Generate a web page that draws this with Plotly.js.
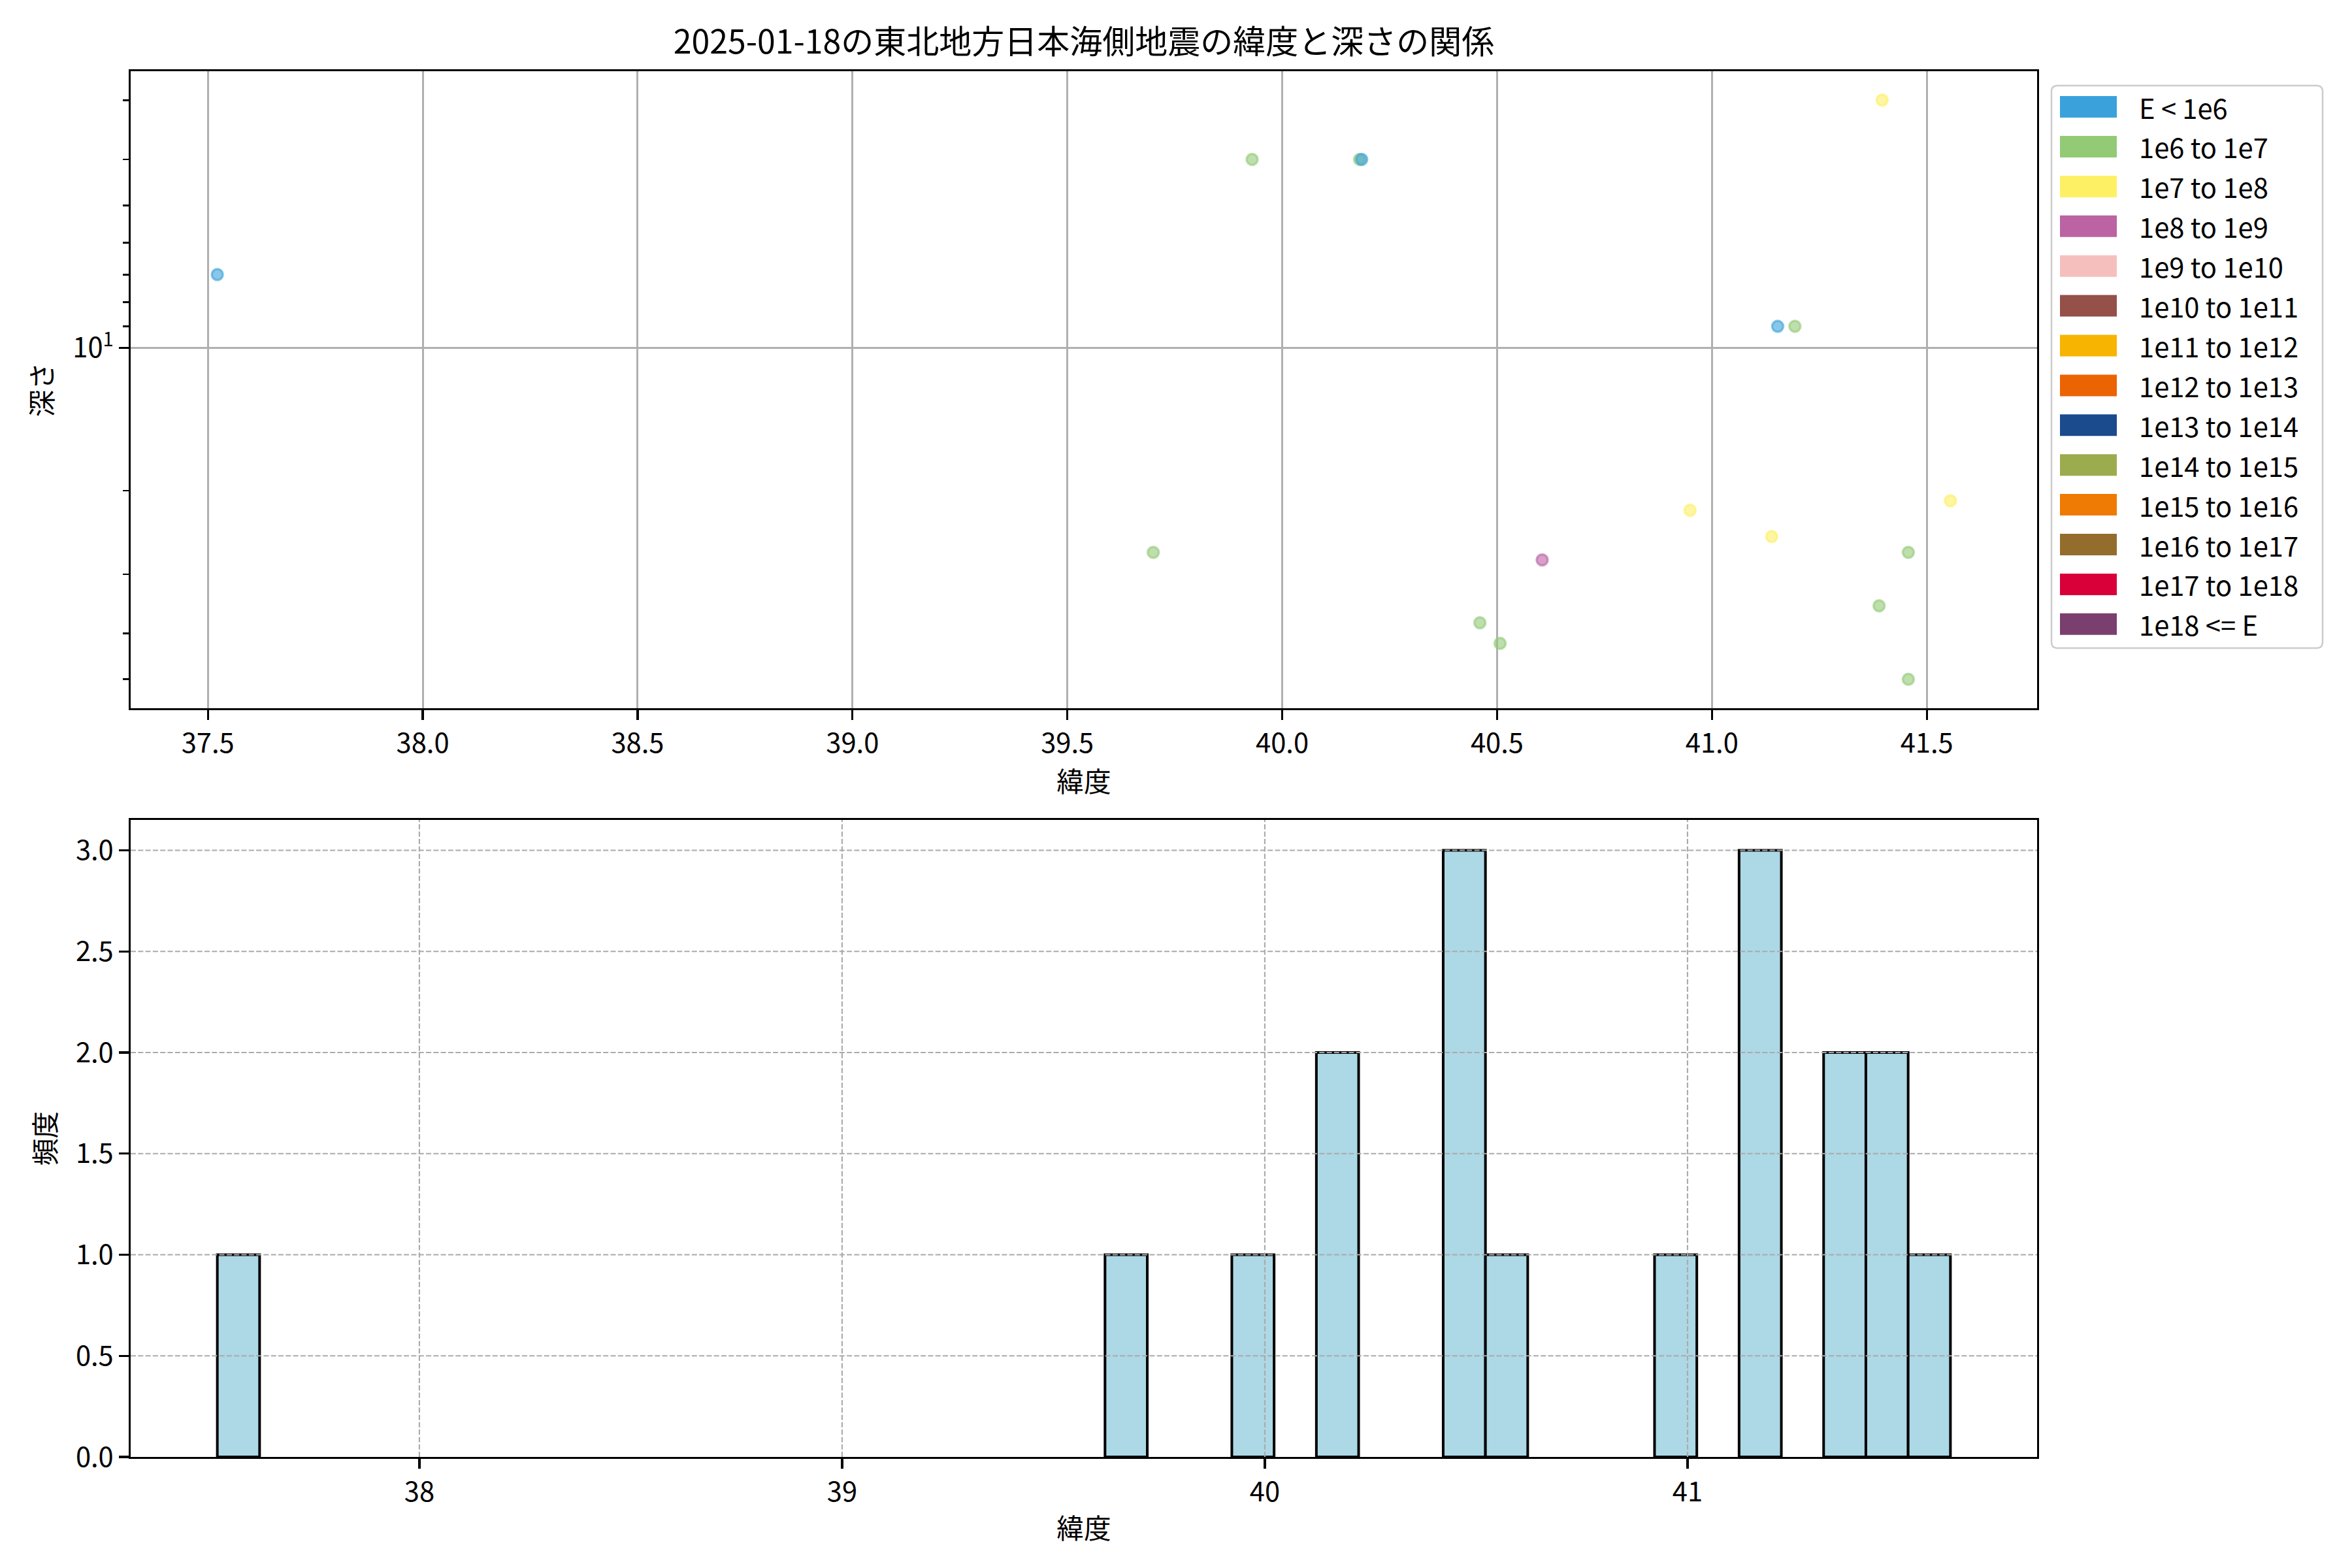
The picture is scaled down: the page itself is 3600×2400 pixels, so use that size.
<!DOCTYPE html>
<html>
<head>
<meta charset="utf-8">
<script src="https://cdn.plot.ly/plotly-3.0.1.min.js"></script>
<style>html,body{margin:0;padding:0;background:#fff}</style>
</head>
<body>
<div id="chart" style="width:3600px;height:2400px"></div>
<script>
// ---------------- data ----------------
const latitudes   = [37.522, 39.700, 39.930, 40.180, 40.185, 40.460, 40.480, 40.507, 40.605, 40.949, 41.139, 41.153, 41.193, 41.389, 41.396, 41.457, 41.457, 41.555];
const depths      = [7,      27,     4,      4,      4,      38,     0,      42,     28,     22,     25,     9,      9,      35,     3,      27,     50,     21];
const energyClass = [0,      1,      1,      1,      0,      1,      1,      1,      3,      2,      2,      0,      1,      1,      2,      1,      1,      2];

const classLabels = ['E < 1e6', '1e6 to 1e7', '1e7 to 1e8', '1e8 to 1e9', '1e9 to 1e10', '1e10 to 1e11',
                     '1e11 to 1e12', '1e12 to 1e13', '1e13 to 1e14', '1e14 to 1e15', '1e15 to 1e16',
                     '1e16 to 1e17', '1e17 to 1e18', '1e18 <= E'];
const classColors = ['#3aa1db', '#93ca76', '#fef064', '#bb63a3', '#f5bfbd', '#945049',
                     '#f7b400', '#ec6304', '#1b4a8d', '#9bac4f', '#ef7a04',
                     '#946d2c', '#d9003a', '#7a3f6f'];

const depthMinorTicks = [3, 4, 5, 6, 7, 8, 9, 20, 30, 40, 50];
const depthMajorTicks = [10];
const depthMajorText  = ['10<sup>1</sup>'];
const countTicks = [0.5, 1.0, 1.5, 2.0, 2.5, 3.0];
const histLatTicks = [38, 39, 40, 41];
const binSize = 0.1;

const titleText = '2025-01-18の東北地方日本海側地震の緯度と深さの関係';
const latLabel = '緯度';
const depthLabel = '深さ';
const countLabel = '頻度';

// ---------------- helpers ----------------
const W = 3600, H = 2400;
const FONT = '"Noto Sans CJK JP", "Noto Sans", sans-serif';
const px = x => x / W;
const py = y => 1 - y / H;
function hexA(hex, a) {
  const n = parseInt(hex.slice(1), 16);
  return `rgba(${(n >> 16) & 255},${(n >> 8) & 255},${n & 255},${a})`;
}

// scatter ranges (matplotlib-like 5% margins)
const latMin = Math.min(...latitudes), latMax = Math.max(...latitudes);
const latSpan = latMax - latMin;
const topXRange = [latMin - 0.05 * latSpan, latMax + 0.05 * latSpan];
const posDepths = depths.filter(d => d > 0);
const lgMin = Math.log10(Math.min(...posDepths)), lgMax = Math.log10(Math.max(...posDepths));
const lgSpan = lgMax - lgMin;
const topYRange = [lgMax + 0.05 * lgSpan, lgMin - 0.05 * lgSpan]; // reversed (depth increases downward)

// histogram bins (arange(min, max+size, size))
const nEdges = Math.ceil((latMax + binSize - latMin) / binSize - 1e-9);
const lastEdge = latMin + (nEdges - 1) * binSize;
const hSpan = lastEdge - latMin;
const botXRange = [latMin - 0.05 * hSpan, lastEdge + 0.05 * hSpan];
const counts = new Array(nEdges - 1).fill(0);
latitudes.forEach(v => { let k = Math.floor((v - latMin) / binSize + 1e-9); if (k >= counts.length) k = counts.length - 1; counts[k]++; });
const maxCount = Math.max(...counts);
const botYRange = [0, maxCount * 1.05];

// ---------------- traces ----------------
const scatter = {
  type: 'scatter', mode: 'markers',
  x: latitudes, y: depths,
  xaxis: 'x', yaxis: 'y',
  marker: {
    size: 17,
    color: energyClass.map(c => hexA(classColors[c], 0.6)),
    line: { width: 3.5, color: energyClass.map(c => hexA(classColors[c], 0.6)) }
  },
  showlegend: false, hoverinfo: 'x+y'
};

const hist = {
  type: 'histogram',
  x: latitudes,
  xaxis: 'x2', yaxis: 'y2',
  xbins: { start: latMin, end: lastEdge, size: binSize },
  autobinx: false,
  marker: { color: '#add8e6', line: { color: '#000000', width: 4 } },
  showlegend: false
};

// ---------------- shapes / annotations ----------------
const shapes = [];
const annotations = [];

// dashed grid above bars in bottom panel
const gridStyle = { color: '#aaaaaa', width: 2.1, dash: '8px,3.3px' };
countTicks.forEach(v => shapes.push({
  type: 'line', xref: 'x2 domain', yref: 'y2', x0: 0, x1: 1, y0: v, y1: v,
  line: gridStyle, layer: 'above'
}));
histLatTicks.forEach(v => shapes.push({
  type: 'line', xref: 'x2', yref: 'y2 domain', x0: v, x1: v, y0: 0, y1: 1,
  line: gridStyle, layer: 'above'
}));

// custom legend (patch style like matplotlib)
const legL = 3140, legR = 3555, legT = 131, legB = 992, rad = 9;
const rx = rad / W, ry = rad / H;
const L = px(legL), R = px(legR), T = py(legT), B = py(legB);
shapes.push({
  type: 'path', xref: 'paper', yref: 'paper',
  path: `M ${L + rx},${T} L ${R - rx},${T} Q ${R},${T} ${R},${T - ry} L ${R},${B + ry} Q ${R},${B} ${R - rx},${B} L ${L + rx},${B} Q ${L},${B} ${L},${B + ry} L ${L},${T - ry} Q ${L},${T} ${L + rx},${T} Z`,
  fillcolor: 'rgba(255,255,255,0.8)', line: { color: '#cccccc', width: 2.5 }, layer: 'above'
});
const row0 = 163.6, rowStep = 60.9;
classLabels.forEach((lab, i) => {
  const cy = row0 + i * rowStep;
  shapes.push({
    type: 'rect', xref: 'paper', yref: 'paper',
    x0: px(3153), x1: px(3240), y0: py(cy - 16.5), y1: py(cy + 16.5),
    fillcolor: classColors[i], line: { width: 0 }, layer: 'above'
  });
  annotations.push({
    xref: 'paper', yref: 'paper', x: px(3272), y: py(cy), xanchor: 'left', yanchor: 'middle',
    text: lab, showarrow: false, font: { family: FONT, size: 41.7, color: '#000' }
  });
});

// ---------------- layout ----------------
const axCommon = {
  showline: true, linecolor: '#000', linewidth: 3.3, mirror: true,
  ticks: 'outside', ticklen: 14.6, tickwidth: 3.3, tickcolor: '#000',
  tickfont: { family: FONT, size: 41.7, color: '#000' },
  zeroline: false
};
const xDom = [px(200), px(3118)];

const layout = {
  width: W, height: H,
  margin: { l: 0, r: 0, t: 0, b: 0 },
  paper_bgcolor: '#fff', plot_bgcolor: '#fff',
  font: { family: FONT, color: '#000' },
  showlegend: false,
  bargap: 0,
  title: {
    text: titleText, x: (xDom[0] + xDom[1]) / 2, xanchor: 'center', xref: 'paper',
    y: py(64), yanchor: 'middle', yref: 'paper',
    font: { family: FONT, size: 50, color: '#000' }
  },
  xaxis: Object.assign({}, axCommon, {
    domain: xDom, anchor: 'y', range: topXRange,
    tick0: 37.5, dtick: 0.5, tickformat: '.1f',
    showgrid: true, gridcolor: '#b0b0b0', gridwidth: 3,
    title: { text: latLabel, standoff: 18, font: { family: FONT, size: 41.7, color: '#000' } }
  }),
  yaxis: Object.assign({}, axCommon, {
    domain: [py(1084), py(109)], anchor: 'x', type: 'log', range: topYRange,
    tickmode: 'array', tickvals: depthMajorTicks, ticktext: depthMajorText,
    showgrid: true, gridcolor: '#b0b0b0', gridwidth: 3,
    minor: { tickmode: 'array', tickvals: depthMinorTicks, ticks: 'outside', ticklen: 8.3, tickwidth: 2.5, tickcolor: '#000', showgrid: false },
    title: { text: depthLabel, standoff: 18, font: { family: FONT, size: 41.7, color: '#000' } }
  }),
  xaxis2: Object.assign({}, axCommon, {
    domain: xDom, anchor: 'y2', range: botXRange,
    tickmode: 'array', tickvals: histLatTicks, ticktext: histLatTicks.map(String),
    showgrid: false,
    title: { text: latLabel, standoff: 18, font: { family: FONT, size: 41.7, color: '#000' } }
  }),
  yaxis2: Object.assign({}, axCommon, {
    domain: [py(2230), py(1255)], anchor: 'x2', range: botYRange,
    tick0: 0, dtick: 0.5, tickformat: '.1f',
    showgrid: false,
    title: { text: countLabel, standoff: 18, font: { family: FONT, size: 41.7, color: '#000' } }
  }),
  shapes: shapes,
  annotations: annotations
};

Plotly.newPlot('chart', [scatter, hist], layout, { staticPlot: true, displayModeBar: false });
</script>
</body>
</html>
